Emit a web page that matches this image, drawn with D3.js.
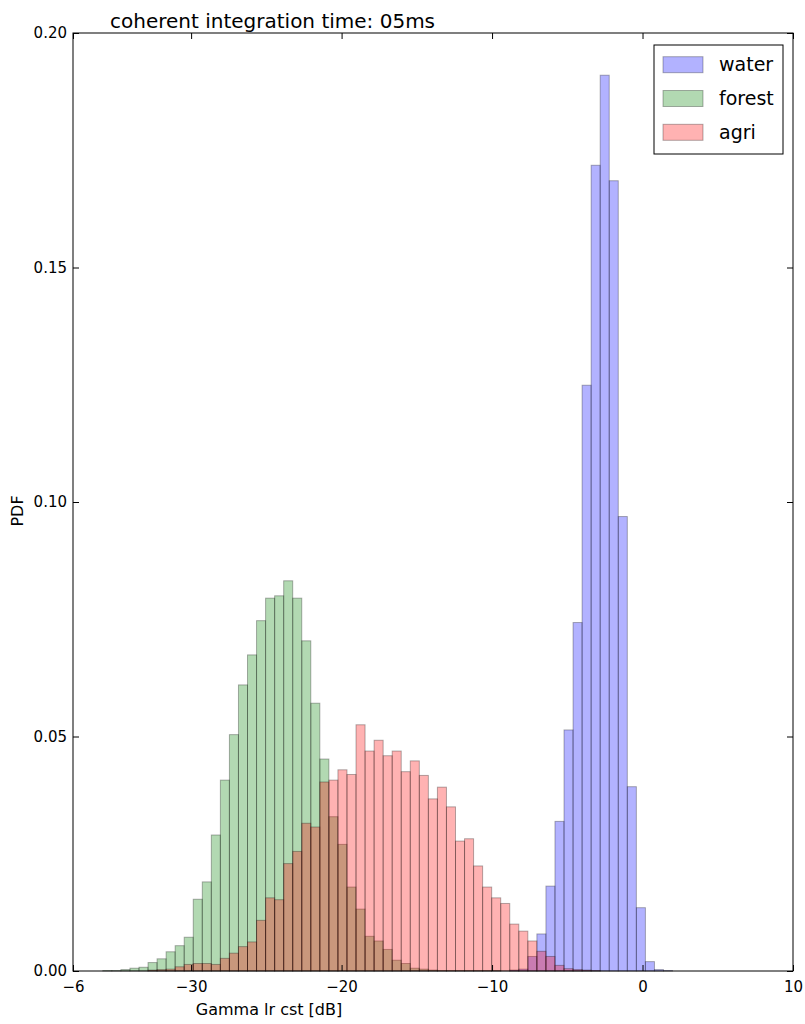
<!DOCTYPE html>
<html>
<head>
<meta charset="utf-8">
<script src="https://cdn.jsdelivr.net/npm/d3@7"></script>
<style>
  body { margin: 0; background: #fff; }
  text { font-family: "DejaVu Sans", sans-serif; }
</style>
</head>
<body>
<script>
// histogram bins shared by all three classes
var binStart = -36.47;
var binWidth = 0.601;

var seriesNames = ["water", "forest", "agri"];
var seriesColors = ["#0000ff", "#008000", "#ff0000"];

var water = [0,0,0,0,0,0,0,0,0,0, 0,0,0,0,0,0,0,0,0,0, 0,0,0,0,0,0,0,0,0,0,
  0,0,0,0,0,0,0,0,0,0, 0,0,0,0,0,0,0.0002,0.0004,0.0031,0.0079,
  0.0181,0.0319,0.0514,0.0743,0.1249,0.1718,0.1910,0.1685,0.0969,0.0393,
  0.0135,0.0020,0.0003,0.0001];

var forest = [0,0.0001,0.0001,0.0003,0.0006,0.0008,0.0018,0.0026,0.0041,0.0054,
  0.0072,0.0153,0.0190,0.0290,0.0407,0.0504,0.0610,0.0674,0.0747,0.0795,
  0.0800,0.0832,0.0795,0.0704,0.0571,0.0452,0.0329,0.0270,0.0179,0.0132,
  0.0074,0.0064,0.0046,0.0023,0.0016,0.0006,0.0004,0.0002,0.0001,0.0001,
  0.0001,0.0001,0.0001,0.0001,0.0001,0,0,0];

var agri = [0,0,0,0,0,0,0.0002,0.0003,0.0004,0.0009,
  0.0014,0.0016,0.0016,0.0014,0.0027,0.0038,0.0052,0.0062,0.0108,0.0156,
  0.0152,0.0229,0.0255,0.0315,0.0307,0.0403,0.0407,0.0429,0.0419,0.0525,
  0.0469,0.0492,0.0459,0.0469,0.0425,0.0448,0.0417,0.0367,0.0392,0.0350,
  0.0277,0.0282,0.0224,0.0179,0.0156,0.0144,0.0100,0.0085,0.0064,0.0042,
  0.0031,0.0012,0.0005,0.0003,0.0002,0.0001];

var xTickValues = [-37.85, -30, -20, -10, 0, 10];
var xTickLabels = ["\u22126", "\u221230", "\u221220", "\u221210", "0", "10"];
var yTickValues = [0, 0.05, 0.10, 0.15, 0.20];

var W = 805, H = 1024;
var plotLeft = 73, plotRight = 793, plotTop = 33, plotBottom = 971;

var svg = d3.select("body").append("svg")
    .attr("width", W)
    .attr("height", H);

var x = d3.scaleLinear().domain([-37.85, 10]).range([plotLeft, plotRight]);
var y = d3.scaleLinear().domain([0, 0.2]).range([plotBottom, plotTop]);

var allSeries = [water, forest, agri];

allSeries.forEach(function (vals, k) {
  var bins = vals.map(function (v, i) {
    return { x0: binStart + i * binWidth, x1: binStart + (i + 1) * binWidth, v: v };
  }).filter(function (d) { return d.v > 0; });

  svg.append("g").selectAll("rect").data(bins).enter().append("rect")
    .attr("x", function (d) { return x(d.x0); })
    .attr("width", function (d) { return x(d.x1) - x(d.x0); })
    .attr("y", function (d) { return y(d.v); })
    .attr("height", function (d) { return y(0) - y(d.v); })
    .style("fill", seriesColors[k])
    .style("fill-opacity", 0.3)
    .style("stroke", "#000")
    .style("stroke-opacity", 0.3)
    .style("stroke-width", 1);
});

// axes (ticks inside, on all four sides)
var tickLen = 6;
var xBottom = d3.axisBottom(x).tickValues(xTickValues)
  .tickFormat(function (d, i) { return xTickLabels[i]; })
  .tickSizeInner(-tickLen).tickSizeOuter(0).tickPadding(10);
var xTop = d3.axisTop(x).tickValues(xTickValues).tickFormat("")
  .tickSizeInner(-tickLen).tickSizeOuter(0);
var yLeft = d3.axisLeft(y).tickValues(yTickValues).tickFormat(d3.format(".2f"))
  .tickSizeInner(-tickLen).tickSizeOuter(0).tickPadding(6);
var yRight = d3.axisRight(y).tickValues(yTickValues).tickFormat("")
  .tickSizeInner(-tickLen).tickSizeOuter(0);

function styleAxis(g) {
  g.select(".domain").remove();
  g.selectAll("line").attr("stroke", "#000");
  g.selectAll("text").style("font-family", "DejaVu Sans").style("font-size", "15px").attr("fill", "#000");
}

svg.append("g").attr("transform", "translate(0," + plotBottom + ")").call(xBottom).call(styleAxis);
svg.append("g").attr("transform", "translate(0," + plotTop + ")").call(xTop).call(styleAxis);
svg.append("g").attr("transform", "translate(" + plotLeft + ",0)").call(yLeft).call(styleAxis);
svg.append("g").attr("transform", "translate(" + plotRight + ",0)").call(yRight).call(styleAxis);

svg.append("rect")
  .attr("x", plotLeft).attr("y", plotTop)
  .attr("width", plotRight - plotLeft).attr("height", plotBottom - plotTop)
  .style("fill", "none").style("stroke", "#000").style("stroke-width", 1);

// title and labels
svg.append("text").attr("x", 110).attr("y", 28)
  .style("font-size", "20px").text("coherent integration time: 05ms");

svg.append("text").attr("x", 269).attr("y", 1015)
  .attr("text-anchor", "middle").style("font-size", "16px").text("Gamma lr cst [dB]");

svg.append("text").attr("transform", "translate(23,511) rotate(-90)")
  .attr("text-anchor", "middle").style("font-size", "16px").text("PDF");

// legend
var legend = svg.append("g");
legend.append("rect")
  .attr("x", 654).attr("y", 45).attr("width", 129).attr("height", 109)
  .style("fill", "#fff").style("stroke", "#000").style("stroke-width", 1);

seriesNames.forEach(function (name, k) {
  var cy = 64.7 + k * 33.8;
  legend.append("rect")
    .attr("x", 663).attr("y", cy - 8).attr("width", 40).attr("height", 16)
    .style("fill", seriesColors[k]).style("fill-opacity", 0.3)
    .style("stroke", "#000").style("stroke-opacity", 0.3);
  legend.append("text").attr("x", 719).attr("y", cy + 6.5)
    .style("font-size", "19px").text(name);
});
</script>
</body>
</html>
